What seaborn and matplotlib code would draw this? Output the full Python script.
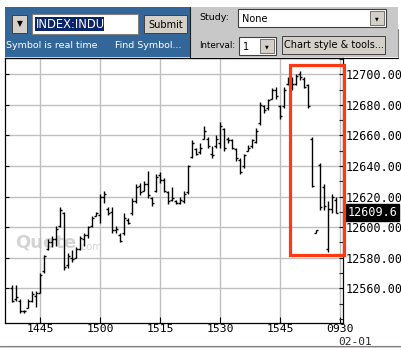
import matplotlib
matplotlib.use("Agg")
import numpy as np
import pandas as pd
import matplotlib.pyplot as plt
from matplotlib.patches import Rectangle
from matplotlib.ticker import MultipleLocator, FixedLocator
import seaborn as sns

# ---------------- data (1-minute OHLC bars, INDEX:INDU) ----------------
bar_open = [12560, 12553, 12552, 12545, 12547, 12552, 12555, 12557, 12571, 12586,
            12590, 12592, 12601, 12609, 12575, 12580, 12580, 12586, 12592, 12595,
            12601, 12607, 12608, 12620, 12612, 12610, 12598, 12595, 12596, 12605,
            12609, 12617, 12627, 12624, 12628, 12619, 12624, 12634, 12631, 12623,
            12618, 12617, 12616, 12617, 12623, 12646, 12651, 12649, 12658, 12658,
            12648, 12653, 12655, 12664, 12658, 12657, 12651, 12644, 12640, 12650,
            12653, 12656, 12668, 12679, 12678, 12684, 12690, 12679, 12679, 12694,
            12691, 12694, 12700, 12697, 12693, 12658, 12596, 12641, 12626, 12586,
            12612, 12618]
bar_high = [12562, 12562, 12553, 12546, 12553, 12558, 12558, 12570, 12582, 12592,
            12594, 12601, 12613, 12610, 12583, 12585, 12587, 12594, 12596, 12601,
            12607, 12610, 12622, 12624, 12613, 12613, 12601, 12596, 12609, 12606,
            12619, 12628, 12629, 12630, 12637, 12620, 12635, 12636, 12632, 12624,
            12626, 12618, 12620, 12624, 12641, 12657, 12652, 12655, 12666, 12659,
            12653, 12660, 12669, 12665, 12659, 12658, 12652, 12645, 12648, 12654,
            12658, 12665, 12682, 12680, 12684, 12691, 12692, 12680, 12692, 12698,
            12698, 12700, 12702, 12698, 12694, 12659, 12598, 12642, 12628, 12617,
            12622, 12620]
bar_low = [12551, 12552, 12544, 12544, 12547, 12551, 12548, 12557, 12570, 12585,
           12587, 12588, 12600, 12572, 12573, 12577, 12580, 12585, 12588, 12593,
           12600, 12607, 12603, 12616, 12608, 12596, 12596, 12590, 12595, 12602,
           12608, 12616, 12621, 12624, 12619, 12614, 12623, 12629, 12623, 12615,
           12617, 12615, 12615, 12616, 12622, 12645, 12647, 12648, 12658, 12652,
           12645, 12652, 12652, 12650, 12655, 12651, 12643, 12635, 12639, 12650,
           12652, 12655, 12667, 12675, 12677, 12684, 12684, 12671, 12678, 12693,
           12690, 12693, 12696, 12691, 12678, 12626, 12596, 12611, 12611, 12584,
           12609, 12609]
bar_close = [12552, 12554, 12545, 12545, 12552, 12556, 12557, 12569, 12581, 12590,
             12592, 12599, 12611, 12574, 12581, 12579, 12586, 12593, 12595, 12600,
             12606, 12609, 12620, 12622, 12609, 12598, 12599, 12591, 12606, 12603,
             12617, 12626, 12623, 12628, 12621, 12616, 12633, 12631, 12624, 12617,
             12619, 12616, 12618, 12622, 12640, 12655, 12648, 12652, 12663, 12653,
             12647, 12658, 12666, 12652, 12657, 12652, 12645, 12636, 12647, 12652,
             12657, 12663, 12680, 12677, 12683, 12690, 12686, 12673, 12690, 12697,
             12694, 12699, 12698, 12692, 12679, 12627, 12598, 12613, 12614, 12612,
             12620, 12609.6]

x_tick_index = [7, 22, 37, 52, 67, 82]
x_tick_labels = ["1445", "1500", "1515", "1530", "1545", "0930"]
date_label = "02-01"
y_tick_values = [12560, 12580, 12600, 12620, 12640, 12660, 12680, 12700]
last_price = 12609.6
symbol = "INDEX:INDU"

df = pd.DataFrame({"open": bar_open, "high": bar_high,
                   "low": bar_low, "close": bar_close})
df["idx"] = np.arange(len(df))

# ---------------- figure ----------------
sns.set_theme(style="white")
plt.rcParams["font.family"] = ["DejaVu Sans"]

W, H = 402, 348
fig = plt.figure(figsize=(W / 100, H / 100), dpi=100)
fig.patch.set_facecolor("white")

# UI layer in pixel coordinates
ui = fig.add_axes([0, 0, 1, 1], zorder=0)
ui.set_xlim(0, W)
ui.set_ylim(H, 0)
ui.axis("off")

blue = "#336699"
panel_gray = "#c8c8c8"
btn_gray = "#d4d0c8"

ui.add_patch(Rectangle((5, 7), 185, 50, fc=blue, ec="none"))
ui.add_patch(Rectangle((190, 7), 208, 50, fc=panel_gray, ec="none"))
ui.plot([190, 190], [7, 57], color="#202020", lw=0.8)
ui.plot([5, 398], [57.5, 57.5], color="black", lw=0.8)
ui.plot([398, 398], [29, 57], color="#808080", lw=0.8)

# dropdown arrow button
ui.add_patch(Rectangle((12, 15), 15, 18, fc=btn_gray, ec="#404040", lw=0.7))
ui.text(19.5, 24, "\u25BC", ha="center", va="center", fontsize=5.5, color="black")
# text field with highlighted symbol
ui.add_patch(Rectangle((32, 14), 106, 20, fc="white", ec="#808080", lw=0.8))
ui.add_patch(Rectangle((35, 17), 69, 14, fc="#0a246a", ec="none"))
ui.text(35.5, 24.5, symbol, ha="left", va="center", fontsize=8.3, color="white")
# submit button
ui.add_patch(Rectangle((144, 15), 43, 18, fc=btn_gray, ec="#404040", lw=0.7))
ui.text(165.5, 24.5, "Submit", ha="center", va="center", fontsize=7, color="black")
ui.text(6, 45.5, "Symbol is real time", ha="left", va="center", fontsize=6.8, color="white")
ui.text(115, 45.5, "Find Symbol...", ha="left", va="center", fontsize=6.8, color="white")

# right panel controls
ui.text(199, 17.5, "Study:", ha="left", va="center", fontsize=6.8, color="black")
ui.add_patch(Rectangle((238, 9), 148, 18, fc="white", ec="#404040", lw=0.8))
ui.text(242, 18.5, "None", ha="left", va="center", fontsize=7, color="black")
ui.add_patch(Rectangle((370, 11), 14, 14, fc=btn_gray, ec="#606060", lw=0.6))
ui.text(377, 18.5, "\u25BC", ha="center", va="center", fontsize=3.5, color="black")

ui.text(199, 45.5, "Interval:", ha="left", va="center", fontsize=6.3, color="black")
ui.add_patch(Rectangle((239, 37), 37, 18, fc="white", ec="#404040", lw=0.8))
ui.text(243, 46.5, "1", ha="left", va="center", fontsize=7, color="black")
ui.add_patch(Rectangle((260, 39), 14, 14, fc=btn_gray, ec="#606060", lw=0.6))
ui.text(267, 46.5, "\u25BC", ha="center", va="center", fontsize=3.5, color="black")
ui.add_patch(Rectangle((282, 36), 103, 18, fc=btn_gray, ec="#404040", lw=0.7))
ui.text(333.5, 45.5, "Chart style & tools...", ha="center", va="center",
        fontsize=7, color="black")

# bottom strip
ui.add_patch(Rectangle((0, 345.5), W, 2.5, fc=btn_gray, ec="none"))
ui.plot([0, W], [345.5, 345.5], color="#808080", lw=0.8)

# watermark
ui.text(15, 243, "Quote", ha="left", va="center", fontsize=13, fontweight="bold",
        color="#d4d4d4", zorder=0)
ui.text(78, 247, ".com", ha="left", va="center", fontsize=7, color="#d4d4d4", zorder=0)

# ---------------- price axes ----------------
ax = fig.add_axes([5 / W, 25 / H, 338 / W, 265 / H], zorder=1)
ax.set_facecolor("none")

ax.vlines(df["idx"], df["low"], df["high"], color="black", lw=1.0, zorder=3)
ax.hlines(df["open"], df["idx"] - 0.6, df["idx"], color="black", lw=1.0, zorder=3)
ax.hlines(df["close"], df["idx"], df["idx"] + 0.6, color="black", lw=1.0, zorder=3)

ax.set_xlim(-1.75, 82.75)
ax.set_ylim(12537.3, 12710.7)

ax.xaxis.set_major_locator(FixedLocator(x_tick_index))
ax.set_xticklabels(x_tick_labels)
ax.yaxis.set_major_locator(FixedLocator(y_tick_values))
ax.yaxis.set_minor_locator(MultipleLocator(10))
ax.set_yticklabels([f"{v:.2f}" for v in y_tick_values])

ax.grid(True, which="major", color="#c0c0c0", lw=1.0)
ax.set_axisbelow(True)

mono = "DejaVu Sans Mono"
ax.tick_params(axis="y", which="major", direction="in", left=True, right=True,
               labelleft=False, labelright=True, length=3, width=0.8, pad=2,
               labelsize=8.5, colors="black")
ax.tick_params(axis="y", which="minor", direction="in", left=False, right=True,
               length=3, width=0.8)
ax.tick_params(axis="x", which="major", direction="in", bottom=True, length=4,
               width=0.8, pad=1, labelsize=8.2, colors="black")
for lab in ax.get_xticklabels() + ax.get_yticklabels():
    lab.set_family(mono)

for s in ax.spines.values():
    s.set_visible(True)
    s.set_color("black")
    s.set_linewidth(0.9)

# date under last tick
ax.annotate(date_label, xy=(x_tick_index[-1], 0), xycoords=("data", "axes fraction"),
            xytext=(-1, -10), textcoords="offset points", ha="left", va="top",
            fontsize=8, family=mono, annotation_clip=False)

# current price tag
ax.annotate(f"{last_price}", xy=(1.0, last_price), xycoords=("axes fraction", "data"),
            xytext=(3, 0), textcoords="offset points", ha="left", va="center",
            fontsize=8.5, family=mono, color="white", annotation_clip=False,
            bbox=dict(boxstyle="square,pad=0.15", fc="black", ec="black"))

# highlight box
ax.add_patch(Rectangle((69.5, 12581.5), 13.6, 124.5, fill=False, ec="#ff3a10",
                       lw=2.3, clip_on=False, zorder=5))

fig.savefig("out.png", dpi=100, facecolor="white")
